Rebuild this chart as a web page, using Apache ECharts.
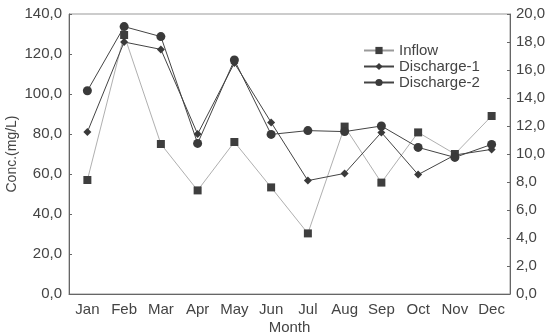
<!DOCTYPE html>
<html>
<head>
<meta charset="utf-8">
<script src="https://cdn.jsdelivr.net/npm/echarts@6/dist/echarts.min.js"></script>
<style>
  html, body { margin: 0; padding: 0; background: #fff; }
  #chart { width: 546px; height: 334px; }
</style>
</head>
<body>
<div id="chart"></div>
<script>
// Monthly concentrations (mg/L)
const months = ['Jan', 'Feb', 'Mar', 'Apr', 'May', 'Jun', 'Jul', 'Aug', 'Sep', 'Oct', 'Nov', 'Dec'];
const inflow      = [57.0, 129.5, 75.0, 51.8, 76.0, 53.3, 30.3, 83.7, 55.7, 80.8, 70.0, 89.0];
const discharge1  = [81.0, 126.0, 122.3, 80.0, 115.5, 85.8, 56.7, 60.3, 80.8, 59.7, 69.5, 72.3];
const discharge2  = [101.6, 133.7, 128.7, 75.3, 117.0, 79.8, 81.7, 81.2, 84.0, 73.3, 68.3, 74.8];

const fmt = v => v.toFixed(1).replace('.', ',');
const font = 'Liberation Sans, Arial, sans-serif';
const textColor = '#444';
const axisColor = '#666';

const chart = echarts.init(document.getElementById('chart'), null, { renderer: 'canvas' });

chart.setOption({
  animation: false,
  backgroundColor: '#fff',
  grid: { left: 69, right: 36, top: 14, bottom: 40, containLabel: false,
          outerBoundsMode: 'none',
          show: true, borderColor: '#999', borderWidth: 1 },
  legend: {
    orient: 'vertical',
    left: 358, top: 38,
    itemWidth: 30, itemHeight: 9, itemGap: 1,
    textStyle: { fontFamily: font, fontSize: 15, color: textColor },
    data: ['Inflow', 'Discharge-1', 'Discharge-2']
  },
  xAxis: {
    type: 'category',
    data: months,
    boundaryGap: true,
    name: 'Month',
    nameLocation: 'middle',
    nameMoveOverlap: false,
    nameGap: 26,
    nameTextStyle: { fontFamily: font, fontSize: 15, color: textColor },
    axisLine: { lineStyle: { color: axisColor, width: 1 } },
    axisTick: { inside: true, length: 3, lineStyle: { color: axisColor } },
    axisLabel: { interval: 0, fontFamily: font, fontSize: 15, color: textColor, margin: 8 }
  },
  yAxis: [
    {
      type: 'value', min: 0, max: 140, interval: 20,
      name: 'Conc.(mg/L)',
      nameLocation: 'middle',
      nameMoveOverlap: false,
      nameGap: 50,
      nameTextStyle: { fontFamily: font, fontSize: 14, color: textColor },
      axisLine: { show: true, lineStyle: { color: axisColor, width: 1 } },
      axisTick: { show: true, inside: true, length: 3, lineStyle: { color: axisColor } },
      splitLine: { show: false },
      axisLabel: { fontFamily: font, fontSize: 15, color: textColor, margin: 7, formatter: fmt }
    },
    {
      type: 'value', min: 0, max: 20, interval: 2,
      position: 'right',
      axisLine: { show: true, lineStyle: { color: axisColor, width: 1 } },
      axisTick: { show: true, inside: true, length: 3, lineStyle: { color: axisColor } },
      splitLine: { show: false },
      axisLabel: { fontFamily: font, fontSize: 15, color: textColor, margin: 6, formatter: fmt }
    }
  ],
  series: [
    {
      name: 'Inflow', type: 'line', data: inflow, yAxisIndex: 0,
      symbol: 'rect', symbolSize: 8,
      lineStyle: { color: '#9a9a9a', width: 0.8 },
      itemStyle: { color: '#3e3e3e' }
    },
    {
      name: 'Discharge-1', type: 'line', data: discharge1, yAxisIndex: 0,
      symbol: 'diamond', symbolSize: 8,
      lineStyle: { color: '#444', width: 1 },
      itemStyle: { color: '#3a3a3a' }
    },
    {
      name: 'Discharge-2', type: 'line', data: discharge2, yAxisIndex: 0,
      symbol: 'circle', symbolSize: 9,
      lineStyle: { color: '#444', width: 1 },
      itemStyle: { color: '#3a3a3a' }
    }
  ]
});
</script>
</body>
</html>
